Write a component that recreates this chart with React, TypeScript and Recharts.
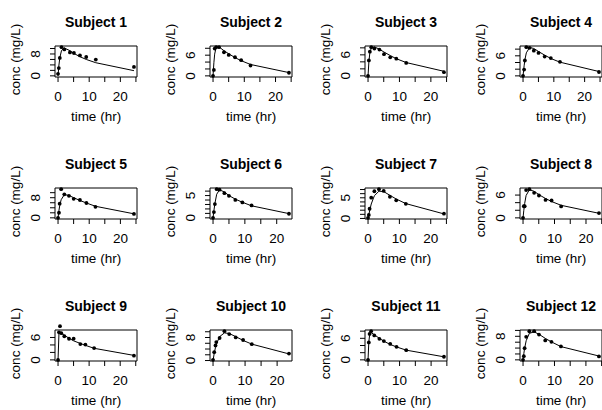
import React from "react";
import { ComposedChart, Line, Scatter, XAxis, YAxis, ReferenceArea } from "recharts";

// Theophylline: 12 subjects, observed concentration (points) and fitted curve (line)
const SUBJECTS = ["Subject 1", "Subject 2", "Subject 3", "Subject 4", "Subject 5", "Subject 6",
  "Subject 7", "Subject 8", "Subject 9", "Subject 10", "Subject 11", "Subject 12"];

const TIMES = [
  [0, 0.25, 0.57, 1.12, 2.02, 3.82, 5.1, 7.03, 9.05, 12.12, 24.37],
  [0, 0.27, 0.52, 1.0, 1.92, 3.5, 5.02, 7.03, 9.0, 12.0, 24.3],
  [0, 0.27, 0.58, 1.02, 2.02, 3.62, 5.08, 7.07, 9.0, 12.15, 24.17],
  [0, 0.35, 0.6, 1.07, 2.13, 3.5, 5.02, 7.02, 9.02, 11.98, 24.65],
  [0, 0.3, 0.52, 1.0, 2.02, 3.5, 5.02, 7.02, 9.1, 12.0, 24.35],
  [0, 0.27, 0.58, 1.15, 2.03, 3.57, 5.0, 7.0, 9.22, 12.1, 23.85],
  [0, 0.25, 0.5, 1.02, 2.02, 3.48, 5.0, 6.98, 9.0, 12.05, 24.22],
  [0, 0.25, 0.52, 0.98, 2.02, 3.53, 5.05, 7.15, 9.07, 12.1, 24.12],
  [0, 0.3, 0.63, 1.05, 2.02, 3.53, 5.02, 7.17, 8.8, 11.6, 24.43],
  [0, 0.37, 0.77, 1.02, 2.05, 3.55, 5.05, 7.08, 9.38, 12.1, 23.7],
  [0, 0.25, 0.5, 0.98, 1.98, 3.6, 5.02, 7.03, 9.03, 12.12, 24.08],
  [0, 0.25, 0.5, 1.0, 2.0, 3.52, 5.07, 7.07, 9.03, 12.05, 24.15],
];

const CONC = [
  [0.74, 2.84, 6.57, 10.5, 9.66, 8.58, 8.36, 7.47, 6.89, 5.94, 3.28],
  [0, 1.72, 7.91, 8.31, 8.33, 6.85, 6.08, 5.4, 4.55, 3.01, 0.9],
  [0, 4.4, 6.9, 8.2, 7.8, 7.5, 6.2, 5.3, 4.9, 3.7, 1.05],
  [0, 1.89, 4.6, 8.6, 8.38, 7.54, 6.88, 5.78, 5.33, 4.19, 1.15],
  [0, 2.02, 5.63, 11.4, 9.33, 8.74, 7.56, 7.09, 5.9, 4.37, 1.57],
  [0, 1.29, 3.08, 6.44, 6.32, 5.53, 4.94, 4.02, 3.46, 2.78, 0.92],
  [0.15, 0.85, 2.35, 5.02, 6.58, 7.09, 6.66, 5.25, 4.39, 3.53, 1.15],
  [0, 3.05, 3.05, 7.31, 7.56, 6.59, 5.88, 4.73, 4.57, 3.0, 1.25],
  [0, 7.37, 9.03, 7.14, 6.33, 5.66, 5.67, 4.24, 4.11, 3.16, 1.12],
  [0.24, 2.89, 5.22, 6.41, 7.83, 10.21, 9.18, 8.02, 7.14, 5.68, 2.42],
  [0, 4.86, 7.24, 8.0, 6.81, 5.87, 5.22, 4.45, 3.62, 2.69, 0.86],
  [0, 1.25, 3.96, 7.82, 9.72, 9.75, 8.57, 6.59, 6.11, 4.57, 1.17],
];

const FITTED = [
  [0, 3.6, 6.6, 9.3, 10.2, 9.2, 8.2, 7.0, 6.0, 4.8, 1.9],
  [0, 3.8, 6.3, 8.3, 8.4, 7.3, 6.4, 5.3, 4.4, 3.3, 0.95],
  [0, 4.0, 6.6, 7.9, 8.3, 7.6, 6.8, 5.8, 4.9, 3.8, 1.3],
  [0, 3.0, 4.8, 6.9, 8.5, 8.2, 7.3, 6.2, 5.2, 4.1, 1.3],
  [0, 3.0, 4.7, 7.2, 9.2, 8.9, 8.0, 6.9, 5.9, 4.6, 1.6],
  [0, 1.6, 3.2, 5.3, 6.3, 5.8, 5.0, 4.2, 3.5, 2.7, 0.95],
  [0, 0.9, 1.8, 3.5, 5.5, 6.6, 6.5, 5.6, 4.7, 3.6, 1.1],
  [0, 2.0, 3.8, 5.9, 7.4, 7.0, 6.1, 5.1, 4.3, 3.3, 1.2],
  [0, 7.2, 7.5, 7.1, 6.6, 5.8, 5.1, 4.4, 3.9, 3.1, 1.2],
  [0, 2.5, 4.6, 5.6, 8.3, 9.6, 9.4, 8.3, 7.0, 5.7, 2.3],
  [0, 5.0, 6.9, 7.6, 7.0, 6.0, 5.2, 4.3, 3.6, 2.7, 0.85],
  [0, 2.1, 3.9, 6.5, 9.0, 9.5, 8.7, 7.3, 6.1, 4.5, 1.3],
];

const Y_LIMITS = [
  [-0.42, 10.92], [-0.33, 8.66], [-0.33, 8.53], [-0.34, 8.94],
  [-0.46, 11.86], [-0.26, 6.7], [-0.13, 7.37], [-0.3, 7.86],
  [-0.3, 8.0], [-0.16, 10.61], [-0.32, 8.32], [-0.39, 10.14],
];

const Y_TICKS = [
  [0, 2, 4, 6, 8, 10], [0, 2, 4, 6, 8], [0, 2, 4, 6, 8], [0, 2, 4, 6, 8],
  [0, 2, 4, 6, 8, 10], [0, 1, 2, 3, 4, 5, 6], [0, 1, 2, 3, 4, 5, 6, 7], [0, 2, 4, 6],
  [0, 2, 4, 6], [0, 2, 4, 6, 8, 10], [0, 2, 4, 6, 8], [0, 2, 4, 6, 8, 10],
];

const Y_LABELS = [
  [0, 8], [0, 6], [0, 6], [0, 6], [0, 8], [0, 5],
  [0, 5], [0, 6], [0, 6], [0, 8], [0, 6], [0, 8],
];

const X_TICKS = [0, 5, 10, 15, 20, 25];
const X_LABELS = [0, 10, 20];

const FONT = "'Liberation Sans', Arial, Helvetica, sans-serif";
const W = 150;
const H = 140;
const COL_X = [0, 155, 310, 465];
const ROW_DY = 141.75;
const BOX = { left: 55, right: 137, top: 46, bottom: 77 };

function YTick(props: any) {
  const { y, payload, labels } = props;
  if (!labels.includes(payload.value)) return null;
  const bx = BOX.left - 15;
  return (
    <text x={bx} y={y} transform={`rotate(-90 ${bx} ${y})`} textAnchor="middle"
      fontSize={13.5} fontFamily={FONT} fill="#000">
      {payload.value}
    </text>
  );
}

function Panel({ i }: { i: number }) {
  const col = i % 4;
  const row = Math.floor(i / 4);
  const t = TIMES[i];
  const data = t.map((time, k) => ({ time, conc: CONC[i][k], fit: FITTED[i][k] }));
  const tmax = Math.max(...t);
  const xDom: [number, number] = [-0.04 * tmax, tmax * 1.04];
  const xTicks = X_TICKS.filter((v) => v >= xDom[0] && v <= xDom[1]);
  const yDom = Y_LIMITS[i];
  const cx = (BOX.left + BOX.right) / 2;
  const cy = (BOX.top + BOX.bottom) / 2 - 2;

  return (
    <div style={{ position: "absolute", left: COL_X[col], top: row * ROW_DY, width: W, height: H }}>
      <ComposedChart width={W} height={H} data={data}
        margin={{ top: BOX.top, right: W - BOX.right, bottom: H - BOX.bottom - 20, left: 0 }}>
        <XAxis type="number" dataKey="time" domain={xDom} ticks={xTicks} interval={0}
          allowDataOverflow height={20} axisLine={false} tickSize={5} tickMargin={9}
          tickLine={{ stroke: "#000" }}
          tick={{ fontSize: 13.5, fontFamily: FONT, fill: "#000" }}
          tickFormatter={(v: number) => (X_LABELS.includes(v) ? String(v) : "")} />
        <YAxis type="number" domain={yDom} ticks={Y_TICKS[i]} interval={0} allowDataOverflow
          width={BOX.left} axisLine={false} tickSize={5} tickLine={{ stroke: "#000" }}
          tick={(p: any) => <YTick {...p} labels={Y_LABELS[i]} />} />
        <ReferenceArea x1={xDom[0]} x2={xDom[1]} y1={yDom[0]} y2={yDom[1]}
          fill="none" stroke="#000" strokeWidth={1} fillOpacity={0} />
        <Line type="linear" dataKey="fit" stroke="#000" strokeWidth={1} dot={false}
          isAnimationActive={false} />
        <Scatter dataKey="conc" fill="#000" isAnimationActive={false}
          shape={(p: any) => <circle cx={p.cx} cy={p.cy} r={1.9} fill="#000" />} />
      </ComposedChart>
      <svg width={W} height={H} style={{ position: "absolute", left: 0, top: 0, pointerEvents: "none" }}>
        <text x={cx} y={27} textAnchor="middle" fontSize={14} fontWeight="bold" fontFamily={FONT}>
          {SUBJECTS[i]}
        </text>
        <text x={cx} y={121} textAnchor="middle" fontSize={13.5} fontFamily={FONT}>time (hr)</text>
        <text x={20} y={cy} transform={`rotate(-90 20 ${cy})`} textAnchor="middle"
          fontSize={13.5} fontFamily={FONT}>conc (mg/L)</text>
      </svg>
    </div>
  );
}

export default function App() {
  return (
    <div style={{ position: "relative", width: 602, height: 410, overflow: "hidden", background: "#fff" }}>
      <style>{"body{margin:0} .recharts-surface [clip-path]{clip-path:none}"}</style>
      {SUBJECTS.map((_, i) => (
        <Panel key={i} i={i} />
      ))}
    </div>
  );
}
